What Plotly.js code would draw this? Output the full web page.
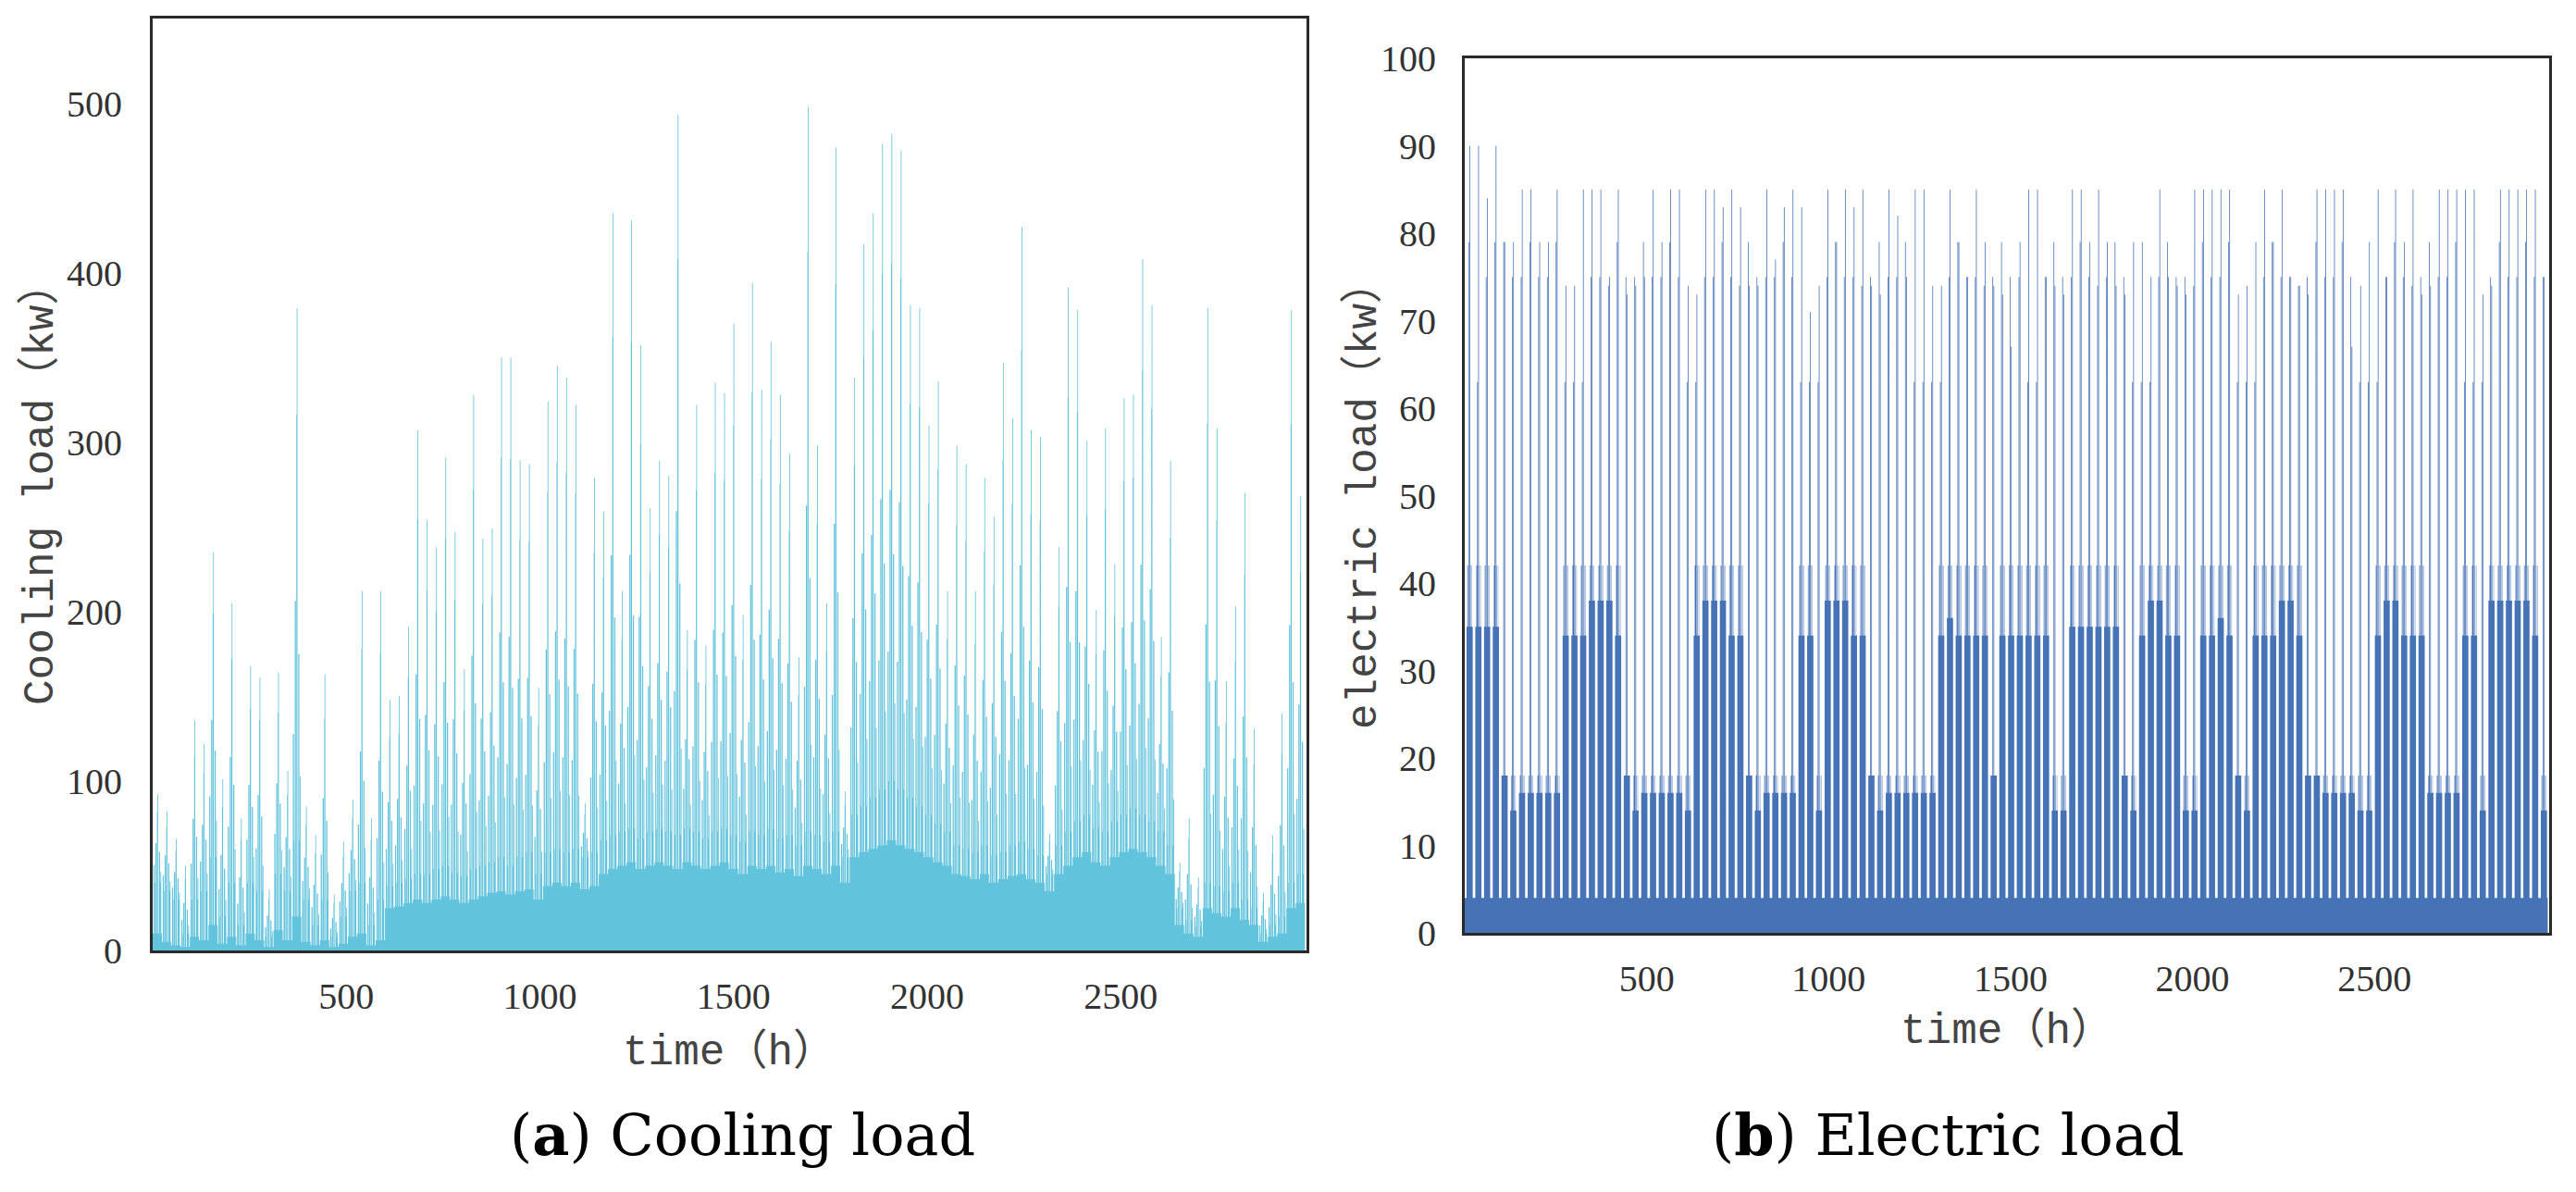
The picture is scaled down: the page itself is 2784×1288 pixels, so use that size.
<!DOCTYPE html>
<html>
<head>
<meta charset="utf-8">
<script src="https://cdn.plot.ly/plotly-3.0.1.min.js"></script>
<style>
html,body{margin:0;padding:0;background:#ffffff;}
#chart{width:2784px;height:1288px;}
</style>
</head>
<body>
<div id="chart"></div>
<script>
// ---------- data (one value per day, 124 days) ----------
const HOURS_PER_DAY = 24;

// Cooling load: daily maximum (kW)
const coolPeak = [92,82,66,50,136,122,235,101,205,78,168,161,36,164,106,379,85,68,163,33,64,89,212,78,212,
  148,150,191,307,254,238,291,247,166,328,243,249,350,350,289,287,155,324,345,338,322,87,279,259,435,212,431,
  357,261,289,280,493,189,322,180,335,329,
  370,198,394,331,359,328,293,173,498,298,205,474,94,338,417,435,476,482,472,381,379,310,336,212,298,287,212,
  279,256,347,314,427,307,303,69,238,391,378,301,201,308,228,326,328,408,381,185,289,52,78,43,379,308,159,203,
  270,131,34,68,140,378,268];
// Cooling load: daytime base level (kW)
const coolFill = [40,35,30,10,30,35,55,20,40,15,40,35,8,45,35,65,30,15,30,8,20,35,40,15,30,
  38,40,42,45,45,48,50,46,44,48,50,52,55,50,55,58,45,58,60,58,60,55,58,
  65,68,70,72,66,70,72,70,68,72,70,66,70,72,
  68,64,70,68,72,66,68,62,70,68,64,70,55,
  80,85,90,95,100,95,90,85,80,75,70,
  62,60,58,62,56,58,62,64,60,56,45,
  62,70,76,80,72,70,76,80,84,80,76,70,62,
  25,18,14,40,38,35,40,30,25,10,15,20,40,45];
// Cooling load: night level (kW)
const coolNight = [10,5,3,2,8,6,15,4,8,3,10,6,2,12,6,20,5,3,6,2,4,8,10,3,6,
  25,26,28,30,28,30,32,30,28,30,32,34,35,33,35,36,30,38,40,38,40,36,38,
  45,48,50,52,48,50,52,50,48,52,50,48,50,52,
  48,45,50,48,50,46,48,44,50,48,45,50,40,
  55,58,60,62,65,62,60,58,55,52,50,
  45,44,42,45,40,42,44,45,42,40,35,
  45,50,55,58,52,50,55,58,60,58,55,50,45,
  15,10,8,25,22,20,25,18,15,5,8,10,25,28];
// Typical intraday shape: share of (peak - daytime base); -1 = night-level hour
const coolHourShape = [-1,-1,0.2,0.2,0.2,0,-1,0.45,0.45,0.45,-1,0.8,1.0,1.0,-1,-1,0.35,0.35,0.35,0,0.12,0.12,-1,-1];

// Electric load: daytime level of each day (kW)
const elecFill = [35,35,35,35,18,14,16,16,16,16,16,34,34,34,38,38,38,34,18,14,16,16,16,16,16,
  14,34,38,38,38,34,34,18,14,16,16,16,16,34,34,14,38,38,38,34,34,18,14,
  16,16,16,16,16,16,34,36,34,34,34,34,18,34,34,34,34,34,34,14,14,
  35,35,35,35,35,35,18,14,34,38,38,34,34,14,14,34,34,36,34,18,14,
  34,34,34,38,38,34,18,18,16,16,16,16,14,14,34,38,38,34,34,34,
  16,16,16,16,34,34,14,38,38,38,38,38,34,14];
// Electric load: daily maximum (kW)
const elecPeak = [90,90,84,90,79,79,85,85,79,79,85,74,74,85,85,85,75,85,73,74,75,85,79,85,85,
  74,73,85,85,83,85,83,74,74,85,77,83,85,83,71,74,85,79,85,83,85,74,73,85,82,
  75,85,85,74,74,85,79,75,85,79,74,73,67,79,85,85,75,74,73,85,85,79,85,79,74,
  73,79,79,75,85,75,74,73,85,85,85,85,85,73,74,79,85,79,85,75,74,73,85,85,85,
  85,67,74,79,85,75,85,79,85,73,74,85,85,85,85,85,73,74,85,85,85,85,85,75];
// Electric load: second daily spike (kW)
const elecSecond = [79,63,75,79,79,75,75,79,75,75,79,63,63,63,75,75,74,79,75,75,79,75,75,79,75,
  63,63,75,75,79,75,74,79,75,75,75,79,75,63,63,63,75,79,75,75,74,75,79,
  75,75,79,63,63,63,63,75,79,75,75,74,75,79,75,75,63,63,75,79,75,75,79,75,74,
  75,79,75,63,63,63,75,79,75,75,74,79,75,75,79,63,63,63,75,79,75,75,74,75,79,
  75,75,79,75,63,63,63,75,79,75,74,75,79,75,75,79,63,63,63,75,79,75,75,79,75,75];
const elecNight = 4;
// light top level seen above each daytime level
const elecTopOfFill = {14:18, 16:18, 18:18, 34:42, 35:42, 36:42, 38:42};
// Typical intraday schedule: B night, F day level, M top level, S second spike, P peak
const elecHourPattern = ['B','B','B','B','B','F','F','M','F','M','S','S','F','P','P','F','M','F','F','M','F','F','B','B'];

const xTickVals = [500,1000,1500,2000,2500];
const coolYTicks = [0,100,200,300,400,500];
const elecYTicks = [0,10,20,30,40,50,60,70,80,90,100];

// ---------- hourly series built from the daily readings ----------
function coolHourly(){
  const x=[], y=[];
  for(let d=0; d<coolPeak.length; d++){
    for(let h=0; h<HOURS_PER_DAY; h++){
      const s = coolHourShape[h];
      const v = s < 0 ? coolNight[d] : coolFill[d] + (coolPeak[d]-coolFill[d])*s;
      x.push(d*HOURS_PER_DAY+h); y.push(v);
    }
  }
  x.push(coolPeak.length*HOURS_PER_DAY); y.push(y[y.length-1]);
  return {x,y};
}
function elecHourly(){
  const x=[], y=[];
  for(let d=0; d<elecPeak.length; d++){
    const lv = {B:elecNight, F:elecFill[d], M:elecTopOfFill[elecFill[d]], S:elecSecond[d], P:elecPeak[d]};
    for(let h=0; h<HOURS_PER_DAY; h++){
      x.push(d*HOURS_PER_DAY+h); y.push(lv[elecHourPattern[h]]);
    }
  }
  x.push(elecPeak.length*HOURS_PER_DAY); y.push(y[y.length-1]);
  return {x,y};
}

const cool = coolHourly();
const elec = elecHourly();

const coolColor = '#62c3dc';
const elecColor = '#4573b6';

const traces = [
  {type:'scatter', mode:'lines', x:cool.x, y:cool.y, xaxis:'x', yaxis:'y',
   line:{shape:'hv', width:0, color:coolColor, simplify:false}, fill:'tozeroy', fillcolor:coolColor,
   hoverinfo:'skip', name:'Cooling load'},
  {type:'scatter', mode:'lines', x:elec.x, y:elec.y, xaxis:'x2', yaxis:'y2',
   line:{shape:'hv', width:0, color:elecColor, simplify:false}, fill:'tozeroy', fillcolor:elecColor,
   hoverinfo:'skip', name:'Electric load'}
];

const W=2784, H=1288;
const tickFont = {family:'"Liberation Serif", "DejaVu Serif", serif', size:40, color:'#333333'};
const frame = {showgrid:false, zeroline:false, showline:true, mirror:true, linecolor:'#2a2a2a', linewidth:3, ticks:'', tickfont:tickFont};
const titleFont = {family:'"Liberation Mono", "Noto Sans CJK SC", monospace', size:46, color:'#444444'};
const capFont = {family:'"DejaVu Serif", "Liberation Serif", serif', size:62, color:'#000000'};

const layout = {
  width:W, height:H, margin:{l:0,r:0,t:0,b:0},
  paper_bgcolor:'#ffffff', plot_bgcolor:'#ffffff', showlegend:false,
  xaxis:Object.assign({}, frame, {domain:[165/W,1412/W], range:[0,2980], tickmode:'array', tickvals:xTickVals, anchor:'y', ticklabelstandoff:12}),
  yaxis:Object.assign({}, frame, {domain:[1-1027/H,1-20/H], range:[0,550], tickmode:'array', tickvals:coolYTicks, anchor:'x', ticklabelstandoff:22}),
  xaxis2:Object.assign({}, frame, {domain:[1583/W,2755/W], range:[0,2980], tickmode:'array', tickvals:xTickVals, anchor:'y2', ticklabelstandoff:12}),
  yaxis2:Object.assign({}, frame, {domain:[1-1008/H,1-63/H], range:[0,100], tickmode:'array', tickvals:elecYTicks, anchor:'x2', ticklabelstandoff:20}),
  annotations:[
    {text:'Cooling load（kw）', xref:'paper', yref:'paper', x:45/W, y:1-523/H, textangle:-90, showarrow:false, font:titleFont, xanchor:'center', yanchor:'middle'},
    {text:'time（h）', xref:'paper', yref:'paper', x:788/W, y:1-1137/H, showarrow:false, font:titleFont, xanchor:'center', yanchor:'middle'},
    {text:'electric load（kw）', xref:'paper', yref:'paper', x:1474/W, y:1-535/H, textangle:-90, showarrow:false, font:titleFont, xanchor:'center', yanchor:'middle'},
    {text:'time（h）', xref:'paper', yref:'paper', x:2169/W, y:1-1114/H, showarrow:false, font:titleFont, xanchor:'center', yanchor:'middle'},
    {text:'(<b>a</b>) Cooling load', xref:'paper', yref:'paper', x:802/W, y:1-1226/H, showarrow:false, font:capFont, xanchor:'center', yanchor:'middle'},
    {text:'(<b>b</b>) Electric load', xref:'paper', yref:'paper', x:2105/W, y:1-1226/H, showarrow:false, font:capFont, xanchor:'center', yanchor:'middle'}
  ]
};

Plotly.newPlot('chart', traces, layout, {staticPlot:true, displayModeBar:false});
</script>
</body>
</html>
